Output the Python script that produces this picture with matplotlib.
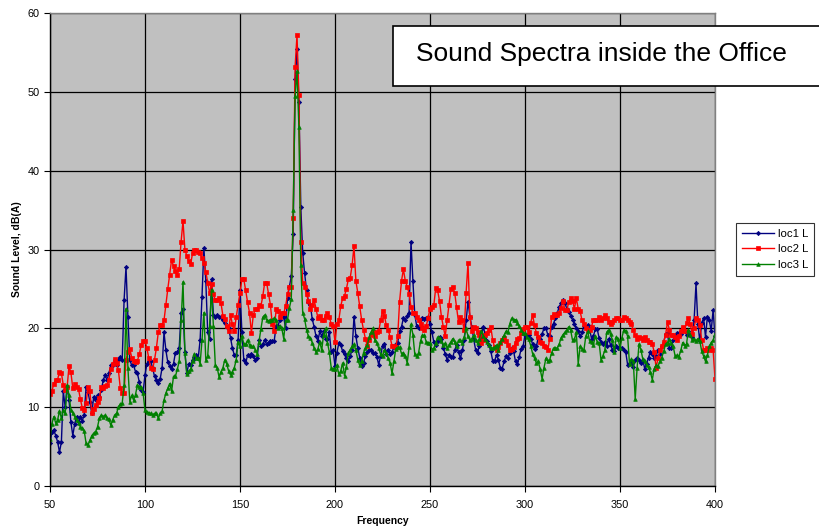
import numpy as np
import matplotlib
matplotlib.use("Agg")
import matplotlib.pyplot as plt
from matplotlib.patches import Rectangle

plt.rcParams['font.family'] = ['Liberation Sans', 'DejaVu Sans']

f_start, f_stop = 50, 400

loc1 = [
    5.4, 6.9, 7.1, 6.4, 5.6, 4.3, 5.6, 12.0, 10.0, 12.6,
    10.9, 8.1, 6.4, 7.9, 8.8, 8.1, 8.8, 8.3, 9.0, 12.6,
    11.9, 10.7, 9.2, 11.3, 10.9, 11.5, 11.3, 12.2, 13.4, 14.1,
    13.4, 14.3, 15.3, 15.3, 16.0, 15.3, 16.0, 16.4, 16.0, 23.6,
    27.8, 21.5, 16.0, 15.3, 15.3, 14.5, 14.3, 13.2, 12.2, 11.9,
    14.1, 15.5, 15.8,
    15.8, 15.0, 13.9, 13.5, 13.1, 13.6, 15.0,
    19.5, 17.2, 15.7, 15.2, 14.9, 15.5, 16.9, 17.0, 17.5, 22.0,
    22.5, 17.0, 14.3, 15.5, 15.3, 16.0, 16.4, 16.6, 16.2, 18.5,
    24.0, 30.2, 26.0, 19.5, 18.6, 26.2, 21.7, 21.5, 21.7, 21.5,
    21.5, 21.1, 20.7, 20.2, 20.0, 18.8, 17.5, 16.6, 16.6, 18.5,
    24.9, 19.5, 16.0, 15.6, 16.6, 16.5, 16.8, 16.5, 16.0, 16.2,
    18.5, 17.7, 18.0, 18.5, 18.0, 18.2, 18.4, 18.4, 18.4, 20.3,
    20.3, 21.1, 21.9, 21.4, 20.0, 23.9, 25.3, 26.6,
    32.0, 51.6, 55.4, 48.7, 35.4,
    29.6, 27.0, 24.9, 23.4, 23.0, 21.2, 20.2,
    19.0, 18.4, 19.6, 19.0, 19.6, 18.6, 18.6, 19.5, 17.0, 17.2,
    15.2, 16.9, 18.1, 17.9, 17.1, 16.7, 16.2, 15.8, 16.5, 17.3,
    21.5, 19.0, 17.5, 16.3, 15.2, 15.6, 16.5, 17.0, 17.3, 17.2,
    16.9, 16.9, 16.4, 15.4, 16.5, 17.8, 18.0, 16.8, 17.3, 16.7,
    17.0, 17.6, 18.0, 18.2, 19.6, 20.2, 21.3, 21.1, 21.6, 22.0,
    31.0, 26.0, 21.7, 20.3, 20.1, 20.3, 21.3, 21.2, 21.3, 21.5, 20.5,
    19.5, 18.3, 17.9, 18.4, 18.9, 18.7, 17.5, 16.8, 16.0, 16.6,
    16.4, 16.4, 17.2, 17.9, 17.0, 16.2, 17.2, 18.5, 21.0, 23.4,
    21.5, 20.2, 18.6, 17.3, 16.9, 17.8, 18.8, 20.2, 19.3, 18.4,
    17.9, 17.1, 15.9, 15.9, 16.6, 16.0, 15.0, 14.9, 15.8, 16.5,
    16.2, 16.9, 17.5, 17.1, 15.8, 15.5, 16.4, 17.4, 17.7, 19.2,
    19.1, 19.1, 18.7, 18.0, 17.4, 17.7, 18.9, 18.7, 19.3, 20.0,
    20.0, 19.2, 19.0, 20.2, 20.6, 21.3, 22.0, 22.7, 23.2, 23.6,
    23.2, 22.5, 22.1, 21.6, 21.1, 20.6, 20.0,
    19.6, 19.0, 19.5, 20.3, 20.2, 20.4, 19.9, 18.7, 19.0, 19.9,
    19.9, 18.8, 18.3, 18.0, 18.3, 17.8, 18.7, 17.9, 17.3, 17.1,
    17.7, 17.5, 17.5, 17.5, 17.2, 17.0, 15.4, 15.6, 15.7, 15.1,
    16.0, 16.2, 16.0, 15.6, 16.0, 14.9, 15.5, 16.3, 17.0, 16.8,
    16.2, 16.5, 17.2, 16.8, 17.7, 18.2, 19.3, 19.4, 17.5, 17.5,
    18.5, 19.0, 19.4, 19.4, 19.3, 19.9, 19.7, 19.2, 19.6, 19.2,
    18.9, 21.0, 25.7, 20.5, 18.4, 20.7, 21.3, 18.9, 21.5, 21.0,
    19.7, 22.3, 19.0,
]

loc2 = [
    11.7, 12.0, 13.0, 13.5, 13.5, 14.5, 14.3, 12.8, 12.2, 12.5,
    15.2, 14.4, 12.4, 12.9, 12.6, 12.3, 11.0, 9.9, 9.6, 10.5,
    12.6, 12.0, 9.2, 9.8, 10.3, 10.6, 11.1, 12.6, 12.4, 12.7,
    12.8, 13.5, 14.8, 15.5, 16.1, 15.6, 14.7, 12.4, 11.8, 11.8,
    16.0, 17.0, 17.4, 16.3, 15.8, 15.7, 15.9, 16.7, 17.9, 18.4,
    18.4, 17.5, 16.2,
    15.0, 14.8, 16.0, 17.5, 19.5, 20.4, 20.4,
    21.0, 23.0, 25.0, 26.8, 28.7, 27.9, 27.3, 26.8, 27.5, 31.0,
    33.6, 30.0, 29.2, 28.5, 28.1, 29.5, 30.0, 29.9, 29.7, 29.5,
    28.9, 28.3, 27.2, 25.8, 24.5, 25.6, 24.3, 23.6, 23.6, 23.8,
    23.2, 21.6, 21.2, 20.3, 19.6, 21.7, 20.5, 19.6, 21.4, 23.0,
    24.5, 26.2, 26.2, 24.8, 23.3, 22.0, 19.4, 21.7, 22.4, 22.4,
    23.0, 22.8, 24.1, 25.8, 25.8, 24.4, 23.0, 20.5, 19.6, 22.4,
    22.2, 21.5, 21.9, 21.9, 22.8, 24.3, 25.3, 25.3,
    34.0, 53.2, 57.2, 49.6, 31.0,
    25.8, 25.3, 24.3, 23.5, 22.4, 23.0, 23.6,
    22.5, 21.3, 21.6, 21.1, 21.1, 21.6, 22.0, 21.4, 20.6, 20.3,
    18.3, 20.5, 21.0, 22.8, 23.8, 24.1, 25.0, 26.2, 26.4, 28.0,
    30.4, 26.0, 24.5, 22.8, 21.1, 19.8, 18.7, 17.7, 18.5, 19.2,
    19.5, 19.0, 19.5, 19.6, 21.0, 22.2, 21.6, 20.4, 19.8, 18.9,
    17.8, 17.8, 17.6, 19.0, 23.4, 26.0, 27.5, 26.0, 25.3, 24.4,
    22.7, 22.0, 22.0, 21.5, 21.1, 20.5, 20.0, 19.8, 20.3, 21.3, 22.5,
    22.7, 22.9, 25.1, 24.8, 23.5, 21.5, 20.2, 19.0, 21.0, 23.0,
    25.0, 25.3, 24.5, 22.7, 20.8, 21.5, 21.0, 19.8, 24.5, 28.3,
    21.5, 19.7, 20.2, 20.0, 19.5, 19.1, 18.1, 18.5, 19.1, 19.4,
    19.8, 20.2, 18.5, 17.6, 17.2, 17.6, 18.1, 18.5, 18.8, 18.4,
    17.9, 17.2, 17.4, 17.6, 18.2, 18.6, 18.8, 19.4, 19.9, 20.2,
    20.2, 19.5, 20.7, 21.7, 20.4, 19.4, 18.9, 18.3, 18.1, 17.8,
    17.6, 17.2, 18.7, 21.5, 21.8, 21.7, 21.7, 21.9, 22.6, 23.5,
    22.3, 22.3, 23.3, 23.8, 23.5, 22.5, 23.8,
    22.5, 22.2, 21.0, 20.5, 20.1, 19.8, 19.8, 20.2, 21.1, 21.1,
    21.1, 21.5, 21.1, 21.3, 21.7, 21.3, 20.8, 20.6, 20.8, 21.1,
    21.3, 21.3, 21.1, 21.1, 21.5, 21.3, 21.0, 20.8, 20.5, 19.8,
    19.1, 18.7, 18.9, 18.8, 18.5, 18.9, 18.5, 18.3, 18.3, 18.0,
    17.0, 15.0, 16.2, 17.2, 17.8, 18.3, 19.2, 20.8, 19.8, 19.1,
    19.1, 18.9, 18.5, 19.0, 19.7, 20.2, 19.7, 20.7, 21.3, 20.5,
    19.3, 20.1, 21.3, 21.1, 20.4, 18.5, 17.3, 17.3, 17.5, 17.3,
    17.5, 17.3, 13.6,
]

loc3 = [
    5.9, 7.9, 8.8, 8.0, 8.4, 9.5, 8.6, 9.6, 9.2, 12.8,
    11.5, 9.7, 9.3, 8.8, 8.4, 8.0, 7.5, 7.4, 7.0, 5.4,
    5.2, 5.8, 6.4, 6.7, 6.9, 7.5, 8.6, 9.0, 8.8, 9.0,
    8.6, 8.5, 7.7, 8.4, 9.0, 9.2, 10.0, 10.4, 10.5, 12.8,
    22.5, 15.0, 10.7, 11.5, 10.9, 11.6, 12.8, 12.5, 12.6, 11.8,
    9.6, 9.4, 9.3,
    9.2, 9.0, 9.2, 9.2, 8.6, 9.2, 9.5,
    10.9, 11.8, 12.4, 13.0, 12.0, 13.9, 13.9, 14.8, 15.8, 21.0,
    25.9, 16.9, 14.2, 14.6, 14.8, 15.9, 16.8, 16.2, 16.2, 15.5,
    18.5, 22.0, 16.0, 16.5, 20.3, 24.9, 20.3, 15.4, 15.0, 13.8,
    14.5, 15.0, 16.0, 15.5, 14.6, 14.1, 14.5, 15.0, 16.0, 18.3,
    17.7, 19.0, 18.0, 18.0, 18.5, 17.9, 17.7, 17.7, 17.3, 16.8,
    18.3, 19.9, 21.4, 21.7, 21.1, 20.9, 21.1, 21.1, 21.3, 21.1,
    20.0, 20.3, 20.0, 18.7, 21.0, 21.1, 22.6, 23.7,
    35.0, 49.5, 52.6, 45.5, 28.0,
    22.0, 21.2, 19.8, 19.0, 18.8, 18.2, 17.5,
    17.0, 17.4, 18.3, 17.2, 19.2, 20.0, 18.2, 17.0, 15.0, 14.9,
    14.9, 15.3, 14.2, 14.6, 15.6, 14.0, 15.1, 16.9, 17.3, 17.7,
    18.0, 17.2, 16.0, 15.3, 15.8, 16.9, 17.5, 17.9, 18.9, 19.5,
    20.0, 18.5, 18.1, 17.5, 16.7, 16.5, 17.2, 16.9, 16.2, 15.6,
    14.3, 15.8, 17.4, 17.6, 17.6, 16.8, 16.9, 16.5, 15.6, 17.6,
    20.5, 19.2, 16.7, 16.5, 16.9, 18.4, 19.1, 19.1, 18.3, 18.2, 18.2,
    17.3, 17.5, 18.1, 18.9, 18.8, 18.4, 17.9, 18.1, 17.5, 17.9,
    18.3, 18.7, 18.3, 17.7, 18.5, 18.5, 18.2, 18.9, 20.0, 19.0,
    18.5, 18.7, 19.1, 18.5, 18.1, 18.7, 19.7, 19.0, 18.7, 18.3,
    17.9, 17.5, 17.5, 17.6, 17.9, 17.3, 18.3, 18.7, 19.1, 19.6,
    19.5, 20.6, 21.3, 21.1, 21.1, 20.7, 20.3, 19.8, 19.4, 19.4,
    18.9, 18.6, 17.8, 16.8, 16.2, 15.6, 15.8, 14.8, 13.6, 15.0,
    16.2, 15.8, 16.0, 16.9, 17.5, 17.5, 17.5, 18.0, 18.8, 19.2,
    19.5, 19.8, 20.2, 19.8, 18.5, 18.6, 19.5,
    15.5, 17.7, 17.4, 17.2, 19.0, 19.6, 18.4, 18.3, 17.9, 19.0,
    18.3, 18.2, 16.0, 16.5, 17.2, 19.5, 19.8, 19.3, 18.5, 17.0,
    18.9, 18.7, 17.5, 18.8, 19.8, 19.7, 19.0, 15.5, 16.1, 15.9,
    11.0, 15.0, 18.0, 17.3, 16.1, 15.8, 15.4, 15.1, 14.4, 13.5,
    14.9, 15.3, 15.2, 15.8, 16.3, 17.1, 18.0, 18.2, 18.6, 18.1,
    17.7, 16.5, 16.6, 16.4, 17.2, 18.2, 17.8, 18.0, 19.8, 19.2,
    18.5, 18.7, 18.4, 18.7, 18.4, 17.1, 16.5, 15.8, 16.6, 17.7,
    18.2, 18.5, 19.3,
]

freq = np.arange(f_start, f_stop + 1)
for s in (loc1, loc2, loc3):
    assert len(s) == len(freq), len(s)

series_names = ["loc1 L", "loc2 L", "loc3 L"]
title_text = "Sound Spectra inside the Office"
x_ticks = [50, 100, 150, 200, 250, 300, 350, 400]
y_ticks = [0, 10, 20, 30, 40, 50, 60]

fig = plt.figure(figsize=(8.2, 5.31), dpi=100)
ax = fig.add_axes([50/820, 1-486/531, 665/820, 473/531])
ax.set_facecolor('#C0C0C0')

styles = [
    dict(color='#000080', marker='D', markersize=2.2),
    dict(color='#FF0000', marker='s', markersize=2.8),
    dict(color='#008000', marker='^', markersize=2.6),
]
for vals, name, st in zip((loc1, loc2, loc3), series_names, styles):
    ax.plot(freq, vals, linewidth=1.0, label=name,
            markeredgewidth=0.5, **st)

ax.set_xlim(50, 400)
ax.set_ylim(0, 60)
ax.set_xticks(x_ticks)
ax.set_yticks(y_ticks)
ax.grid(True, color='black', linewidth=0.9)
ax.set_axisbelow(True)
ax.tick_params(labelsize=7.8, length=4, width=0.8, color='black')
ax.tick_params(axis='x', pad=6)
for side in ('top', 'right'):
    ax.spines[side].set_color('#808080')
    ax.spines[side].set_linewidth(1.0)
for side in ('left', 'bottom'):
    ax.spines[side].set_color('black')
    ax.spines[side].set_linewidth(1.0)

ax.set_xlabel('Frequency', fontsize=7.5, fontweight='bold')
ax.xaxis.set_label_coords(0.5, -0.063)
ax.set_ylabel('Sound Level, dB(A)', fontsize=7.5, fontweight='bold')
ax.yaxis.set_label_coords(-0.042, 0.5)

# title box
rect = Rectangle((393/820, 1-86/531), 430/820, 60/531, transform=fig.transFigure,
                 facecolor='white', edgecolor='black', linewidth=1.2, zorder=5,
                 clip_on=False)
fig.patches.append(rect)
fig.text(601.5/820, 1-54/531, title_text, fontsize=19, ha='center', va='center',
         zorder=6)

leg = fig.legend(loc='upper left', bbox_to_anchor=(736/820, 1-223/531),
                 fontsize=8.2, frameon=True, fancybox=False, handlelength=2.8,
                 borderpad=0.5, labelspacing=0.5, handletextpad=0.35,
                 borderaxespad=0)
leg.get_frame().set_edgecolor('black')
leg.get_frame().set_linewidth(0.8)

fig.savefig('out.png', dpi=100)
